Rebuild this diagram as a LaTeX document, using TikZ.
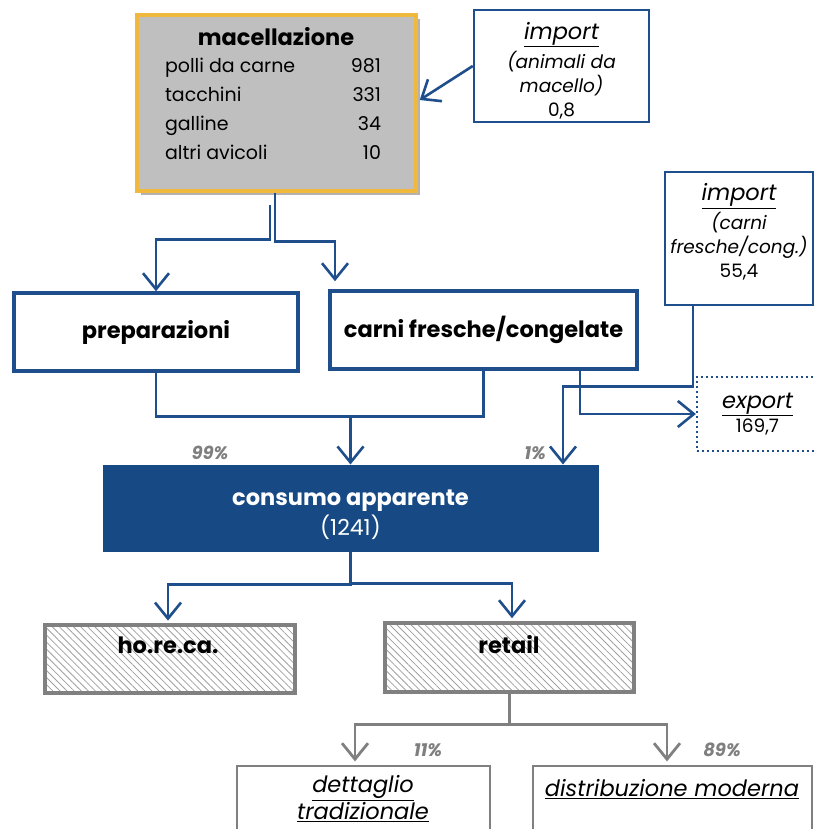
\documentclass[tikz,border=0pt]{standalone}
\usepackage{fontspec}
\setmainfont{Poppins}
\usetikzlibrary{arrows.meta,calc,patterns.meta,shadows}
\definecolor{bl}{HTML}{1F4E8C}
\definecolor{consc}{HTML}{174A84}
\definecolor{yel}{HTML}{F0B83C}
\definecolor{gfill}{HTML}{BFBFBF}
\definecolor{gline}{HTML}{808080}
\definecolor{pctc}{HTML}{7F7F7F}
\newcommand{\fbig}{\fontsize{22.5}{27}\selectfont}
\newcommand{\fbody}{\fontsize{19}{29}\selectfont}
\newcommand{\fsmall}{\fontsize{18.5}{24}\selectfont}
\newcommand{\fpct}{\fontsize{18}{20}\selectfont}
\begin{document}
\begin{tikzpicture}[x=1pt,y=-1pt,
  box/.style={draw, rectangle, inner sep=0pt, align=center},
  macbox/.style={box, draw=yel, fill=gfill, line width=3.5pt,
     drop shadow={shadow xshift=4pt,shadow yshift=-4pt,fill=black,opacity=0.3}},
  bbox/.style={box, draw=bl, fill=white, line width=3.5pt},
  ibox/.style={box, draw=bl, fill=white, line width=2.5pt},
  xbox/.style={box, draw=bl, fill=white, line width=2.2pt, dash pattern=on 2pt off 3pt},
  cbox/.style={box, draw=consc, fill=consc, line width=1pt, text=white},
  hbox/.style={box, draw=gline, line width=3.5pt,
     pattern={Lines[angle=-45,distance=5pt,line width=0.8pt]}, pattern color=gline!75},
  tbox/.style={box, draw=gline, fill=white, line width=1.2pt},
  arr/.style={draw=bl, line width=2.6pt, -{Straight Barb[length=16pt,width=26pt]}},
  ln/.style={draw=bl, line width=2.6pt},
  garr/.style={draw=gline, line width=2.8pt, -{Straight Barb[length=16pt,width=26pt]}},
  pctl/.style={font=\fpct\bfseries\itshape, text=pctc},
  ttl/.style={font=\fbig\bfseries}
]
\useasboundingbox (0,0) rectangle (815,829);
\fill[white] (0,0) rectangle (815,829);
\clip (0,0) rectangle (815,829);

% boxes
\node[macbox, minimum width=279pt, minimum height=176pt] (mac) at (276.5,103) {};
\node[ttl] (macT) at (276,37) {macellazione};
\node (macL) at (273,110) {\fbody\begin{tabular*}{216pt}{@{\extracolsep{\fill}}lr@{}}polli da carne & 981\\ tacchini & 331\\ galline & 34\\ altri avicoli & 10\end{tabular*}};

\node[ibox, minimum width=175pt, minimum height=112pt] (imp1) at (561.5,66) {};
\node[align=center, font=\fsmall] (imp1T) at (561.5,70.5)
  {{\fbig\itshape\underline{import}}\\[3pt]{\itshape (animali da}\\{\itshape macello)}\\0,8};

\node[ibox, minimum width=148pt, minimum height=133pt] (imp2) at (739,238.5) {};
\node[align=center, font=\fsmall] (imp2T) at (739,232)
  {{\fbig\itshape\underline{import}}\\[3pt]{\itshape (carni}\\{\itshape fresche/cong.)}\\55,4};

\node[bbox, minimum width=284pt, minimum height=78pt, font=\fbig\bfseries] (prep) at (156,332) {preparazioni};
\node[bbox, minimum width=307pt, minimum height=78pt, font=\fbig\bfseries] (carni) at (483.5,330) {carni fresche/congelate};

\node[xbox, minimum width=121pt, minimum height=74pt, font=\fsmall] (exp) at (757.5,414)
  {{\fbig\itshape\underline{export}}\\169,7};

\node[cbox, minimum width=495pt, minimum height=86pt] (cons) at (350.5,508) {};
\node[align=center, text=white, font=\fontsize{22}{30}\selectfont] (consT) at (350.5,515)
  {{\fbig\bfseries consumo apparente}\\(1241)};

\node[hbox, minimum width=250pt, minimum height=68pt] (hor) at (170,659) {};
\node[ttl] (horT) at (168,645) {ho.re.ca.};
\node[hbox, minimum width=249pt, minimum height=69pt] (ret) at (509.5,657.5) {};
\node[ttl] (retT) at (509,645) {retail};

\node[tbox, minimum width=253pt, minimum height=90pt] (det) at (363.5,811) {};
\node[align=center, font=\fontsize{22.5}{27}\selectfont\itshape] (detT) at (363,799) {\underline{dettaglio}\\\underline{tradizionale}};
\node[tbox, minimum width=279pt, minimum height=90pt] (dis) at (672.5,811) {};
\node[font=\fbig\itshape] (disT) at (672,789) {\underline{distribuzione moderna}};

% percentages
\node[pctl] (p99) at (210,453) {99\%};
\node[pctl] (p1) at (535,453) {1\%};
\node[pctl] (p11) at (428,750) {11\%};
\node[pctl] (p89) at (722,750) {89\%};

% connectors
\draw[arr] ($(mac.south)+(-6.5,12)$) |- ($(prep.north)+(0,-52)$) -- (prep.north);
\draw[arr] ($(mac.south)+(-1.5,0)$) |- ($(carni.north)+(-148.5,-48)$) -- ($(carni.north)+(-148.5,-8)$);
\draw[arr] (imp1.west) -- ($(mac.east)+(2,-3)$);

\draw[ln] (prep.south) |- ($(cons.north)+(0,-48)$);
\draw[ln] (carni.south) |- ($(cons.north)+(0,-48)$);
\draw[arr] ($(cons.north)+(0,-48)$) -- (cons.north);

\draw[arr] ($(imp2.south)+(-46,0)$) |- ($(cons.north)+(212.5,-78)$) -- ($(cons.north)+(212.5,0)$);
\draw[arr] ($(carni.south)+(96.5,0)$) |- (exp.west);

\draw[arr] (cons.south) |- ($(hor.north)+(-2,-40)$) -- ($(hor.north)+(-2,-4)$);
\draw[arr] (cons.south) |- ($(ret.north)+(2.5,-38)$) -- ($(ret.north)+(2.5,-3)$);

\draw[garr] (ret.south) |- ($(det.north)+(-8.5,-41)$) -- ($(det.north)+(-8.5,-4)$);
\draw[garr] (ret.south) |- ($(dis.north)+(-5.5,-41)$) -- ($(dis.north)+(-5.5,-4)$);
\end{tikzpicture}
\end{document}
